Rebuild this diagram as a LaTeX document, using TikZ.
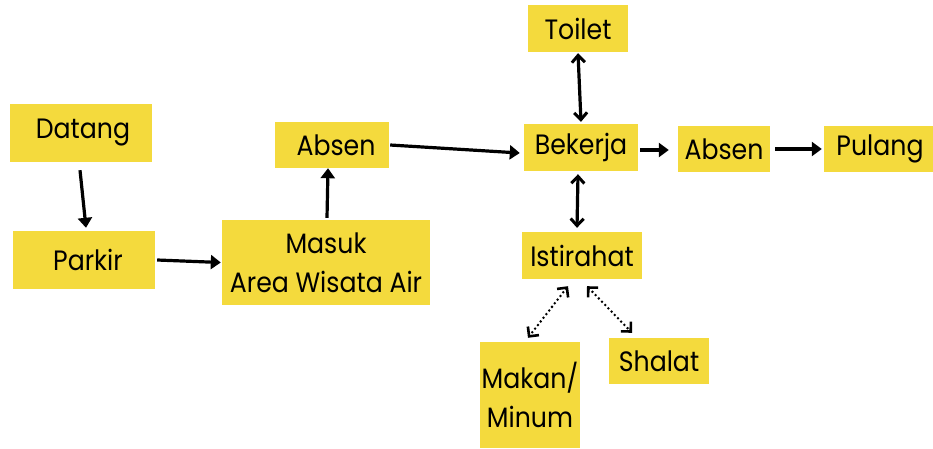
\documentclass[tikz,border=0pt]{standalone}
\usepackage{fontspec}
\setmainfont{Poppins}[FakeStretch=0.9]
\usetikzlibrary{arrows.meta}
\definecolor{boxyellow}{HTML}{F4DA3D}
\begin{document}
\begin{tikzpicture}[x=1pt,y=-1pt,
  box/.style={fill=boxyellow, inner sep=0pt, align=center,
    font=\fontsize{28}{39}\selectfont},
  flow/.style={line width=3.2pt, -{Triangle[length=10pt,width=14pt]}},
  twoway/.style={line width=3.2pt,
    {Straight Barb[length=7pt,width=13pt,line width=3pt]}-{Straight Barb[length=7pt,width=13pt,line width=3pt]}},
  dotway/.style={line width=2.8pt, line cap=round, dash pattern=on 0pt off 4.6pt,
    {Straight Barb[length=7pt,width=14pt,line width=2.6pt]}-{Straight Barb[length=7pt,width=14pt,line width=2.6pt]}}]
  \useasboundingbox (0,0) rectangle (933,448);

  % boxes
  \node[box, minimum width=142pt, minimum height=58pt] (datang) at (81,133) {\hspace{4pt}Datang};
  \node[box, minimum width=142pt, minimum height=58pt] (parkir) at (84,260) {\hspace{8pt}Parkir};
  \node[box, minimum width=208pt, minimum height=85pt] (masuk) at (326,262.5) {Masuk\\Area Wisata Air};
  \node[box, minimum width=114pt, minimum height=46pt] (absena) at (332,145) {\hspace{8pt}Absen};
  \node[box, minimum width=100pt, minimum height=47pt] (toilet) at (578,28.5) {Toilet};
  \node[box, minimum width=114pt, minimum height=47pt] (bekerja) at (581,147.5) {Bekerja};
  \node[box, minimum width=92pt, minimum height=46pt] (absenb) at (724,149) {Absen};
  \node[box, minimum width=112pt, minimum height=46pt] (pulang) at (880,149) {Pulang};
  \node[box, minimum width=120pt, minimum height=47pt] (istirahat) at (582,255.5) {Istirahat};
  \node[box, minimum width=100pt, minimum height=106pt] (makan) at (530,395) {Makan/\\Minum};
  \node[box, minimum width=100pt, minimum height=46pt] (shalat) at (659,361) {Shalat};

  % connectors
  \draw[flow] ([xshift=-1pt,yshift=-8pt]datang.south) -- ([xshift=2pt,yshift=3pt]parkir.north);
  \draw[flow] ([xshift=2pt]parkir.east) -- ([xshift=-1pt]masuk.west);
  \draw[flow] ([xshift=1pt,yshift=2pt]masuk.north) -- ([xshift=-4pt]absena.south);
  \draw[flow] ([xshift=1pt]absena.east) -- ([xshift=-4pt,yshift=-5.5pt]bekerja.west);
  \draw[twoway] ([yshift=-1pt]toilet.south) -- ([yshift=2pt]bekerja.north);
  \draw[flow] ([xshift=2pt,yshift=-2.5pt]bekerja.east) -- ([xshift=-9pt,yshift=-1pt]absenb.west);
  \draw[flow] ([xshift=5pt]absenb.east) -- ([xshift=-2pt]pulang.west);
  \draw[twoway] ([xshift=-3pt,yshift=-3pt]bekerja.south) -- ([xshift=-5pt,yshift=4pt]istirahat.north);
  \draw[dotway] ([xshift=-14pt,yshift=-7pt]istirahat.south) -- ([xshift=-2pt,yshift=4pt]makan.north);
  \draw[dotway] ([xshift=5pt,yshift=-7pt]istirahat.south) -- ([xshift=-27pt,yshift=5pt]shalat.north);
\end{tikzpicture}
\end{document}
